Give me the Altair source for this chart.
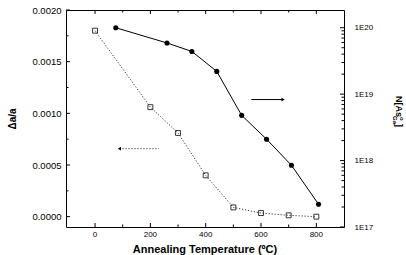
import altair as alt
import pandas as pd

# Δa/a data (open squares, left axis)
sq_temp = [0, 200, 300, 400, 500, 600, 700, 800]
sq_val = [0.0018, 0.00106, 0.00081, 0.00040, 0.00009, 0.000035, 0.000013, 0.0]

# N[As_Ga] data (filled circles, right log axis)
ci_temp = [75, 260, 350, 440, 530, 620, 710, 808]
ci_val = [1.0e20, 5.9e19, 4.4e19, 2.2e19, 4.8e18, 2.1e18, 8.5e17, 2.2e17]

# tick values
x_major = [0, 200, 400, 600, 800]
x_minor = [100, 300, 500, 700]
yl_major = [0.0, 0.0005, 0.0010, 0.0015, 0.0020]
yl_minor = [0.00025, 0.00075, 0.00125, 0.00175]
yr_major = [1e17, 1e18, 1e19, 1e20]
yr_minor = [m * 10 ** e for e in (17, 18, 19) for m in range(2, 10)]

# annotation arrows (data units)
arrow_right_x = [565, 680]
arrow_right_y = 8.3e18
arrow_left_x = [231, 88]
arrow_left_y = 0.000658

X_TITLE = "Annealing Temperature (ºC)"

W, H = 278, 217
X_DOMAIN = [-105, 900]
YL_DOMAIN = [-0.0001, 0.0020]
YR_DOMAIN = [1e17, 1.85e20]
FONT = "Liberation Sans"
MAJ, MIN = 4, 2.5

sq = pd.DataFrame({"t": sq_temp, "v": sq_val})
ci = pd.DataFrame({"t": ci_temp, "v": ci_val})
ar = pd.DataFrame({"t": arrow_right_x, "v": [arrow_right_y] * 2})
al = pd.DataFrame({"t": arrow_left_x, "v": [arrow_left_y] * 2})

xs = alt.Scale(domain=X_DOMAIN, nice=False, zero=False)
yls = alt.Scale(domain=YL_DOMAIN, nice=False, zero=False)
yrs = alt.Scale(type="log", domain=YR_DOMAIN, nice=False)

XE = alt.X("t:Q", scale=xs, axis=None)


def label_axis(orient, values, pad, size, **extra):
    return alt.Axis(orient=orient, values=values, ticks=False, domain=False, grid=False,
                    labelPadding=pad, labelFontSize=size, labelFont=FONT,
                    labelColor="black", zindex=2, **extra)


ax_left = label_axis("left", yl_major, 5, 9.5, format=".4f", title="Δa/a", titleFont=FONT,
                     titleFontSize=10, titleFontWeight="bold", titlePadding=14,
                     titleColor="black")
ax_right = label_axis("right", yr_major, 10, 8,
                      labelExpr="'1E' + round(log(datum.value)/LN10)", title=None)

# ---- left (linear) group ----
sq_line = alt.Chart(sq).mark_line(color="#333", strokeWidth=1, strokeDash=[1.2, 1.8]).encode(
    x=XE, y=alt.Y("v:Q", scale=yls, axis=ax_left))
sq_pts = alt.Chart(sq).mark_point(shape="square", filled=False, color="#222", size=24,
                                  strokeWidth=0.9, opacity=1).encode(
    x=XE, y=alt.Y("v:Q"))
al_line = alt.Chart(al).mark_line(color="#333", strokeWidth=1, strokeDash=[1.2, 1.8]).encode(
    x=XE, y=alt.Y("v:Q"))
al_head = alt.Chart(al.iloc[[1]]).mark_point(shape="triangle-left", filled=True, color="black",
                                             size=14, opacity=1).encode(
    x=XE, y=alt.Y("v:Q"))


def xticks(vals, at_bottom, length):
    y0, y1 = (H, H - length) if at_bottom else (0, length)
    return alt.Chart(pd.DataFrame({"t": vals})).mark_rule(color="black", strokeWidth=1).encode(
        x=XE, y=alt.value(y0), y2=alt.value(y1))


def yticks(vals, at_left, length):
    x0, x1 = (0, length) if at_left else (W, W - length)
    return alt.Chart(pd.DataFrame({"v": vals})).mark_rule(color="black", strokeWidth=1).encode(
        y=alt.Y("v:Q"), x=alt.value(x0), x2=alt.value(x1))


# x tick labels and title placed through the shared x scale
x_labels = alt.Chart(pd.DataFrame({"t": x_major})).mark_text(
    font=FONT, fontSize=8, color="black", baseline="middle", align="center").encode(
    x=XE, y=alt.value(H + 7.5), text=alt.Text("t:Q", format="d"))
x_title = alt.Chart(pd.DataFrame({"a": [0]})).mark_text(
    text=X_TITLE, font=FONT, fontSize=11, fontWeight="bold", color="black",
    baseline="middle", align="center").encode(x=alt.value(W / 2), y=alt.value(H + 23))

left = alt.layer(
    sq_line, sq_pts, al_line, al_head,
    xticks(x_major, True, MAJ), xticks(x_minor, True, MIN),
    xticks(x_major, False, MAJ), xticks(x_minor, False, MIN),
    yticks(yl_major, True, MAJ), yticks(yl_minor, True, MIN),
    x_labels, x_title,
)

# ---- right (log) group ----
ci_line = alt.Chart(ci).mark_line(color="black", strokeWidth=1).encode(
    x=XE, y=alt.Y("v:Q", scale=yrs, axis=ax_right))
ci_pts = alt.Chart(ci).mark_circle(color="black", size=26, opacity=1).encode(
    x=XE, y=alt.Y("v:Q"))
ar_line = alt.Chart(ar).mark_line(color="black", strokeWidth=1).encode(
    x=XE, y=alt.Y("v:Q"))
ar_head = alt.Chart(ar.iloc[[1]]).mark_point(shape="triangle-right", filled=True, color="black",
                                             size=14, opacity=1).encode(
    x=XE, y=alt.Y("v:Q"))

right = alt.layer(
    ci_line, ci_pts, ar_line, ar_head,
    yticks(yr_major, False, MAJ), yticks(yr_minor, False, MIN),
)

one = pd.DataFrame({"a": [0]})


def vtext(txt, x, y, size):
    return alt.Chart(one).mark_text(text=txt, angle=90, align="left", baseline="middle",
                                    font=FONT, fontSize=size, fontWeight="bold",
                                    color="black").encode(x=alt.value(x), y=alt.value(y))


# right axis title N[As_Ga^o] (positions relative to plot area)
title_r = alt.layer(
    vtext("N[As", 333, 86, 9),
    vtext("Ga", 328.5, 106, 6),
    vtext("o", 336, 107, 6),
    vtext("]", 333, 114, 9),
)

chart = alt.layer(left, right, title_r).resolve_scale(y="independent").properties(
    width=W, height=H, autosize=alt.AutoSizeParams(type="none"),
    padding={"left": 66, "top": 10, "right": 62, "bottom": 28},
    background="white",
).configure_view(stroke="black", strokeWidth=1)

chart.save("out.html", embed_options={"renderer": "svg", "actions": False})
